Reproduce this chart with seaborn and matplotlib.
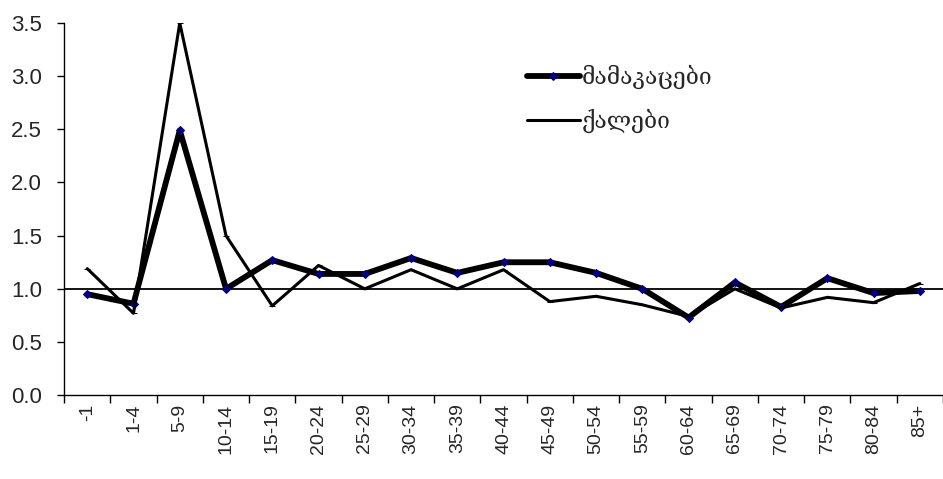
import numpy as np
import pandas as pd
import matplotlib
matplotlib.use("Agg")
import matplotlib.pyplot as plt
import seaborn as sns

AGE_GROUPS = ["-1", "1-4", "5-9", "10-14", "15-19", "20-24", "25-29", "30-34",
              "35-39", "40-44", "45-49", "50-54", "55-59", "60-64", "65-69",
              "70-74", "75-79", "80-84", "85+"]
MEN = [0.95, 0.86, 2.49, 1.00, 1.27, 1.14, 1.14, 1.29, 1.15, 1.25, 1.25,
       1.15, 1.00, 0.73, 1.06, 0.83, 1.10, 0.96, 0.98]
WOMEN = [1.19, 0.77, 3.50, 1.50, 0.84, 1.22, 1.00, 1.18, 1.00, 1.18, 0.88,
         0.93, 0.85, 0.74, 1.00, 0.82, 0.92, 0.87, 1.05]
LABEL_MEN = "მამაკაცები"
LABEL_WOMEN = "ქალები"
REF_LEVEL = 1.0


def main():
    sns.set_style("white")
    plt.rcParams["font.family"] = ["Liberation Sans", "DejaVu Sans"]

    pos = np.arange(len(AGE_GROUPS))
    df = pd.DataFrame({"pos": pos, "men": MEN, "women": WOMEN})

    fig = plt.figure(figsize=(9.43, 4.79), dpi=100)
    ax = fig.add_axes([0.068, 0.175, 0.932, 0.777])

    sns.lineplot(data=df, x="pos", y="men", ax=ax, color="black", lw=4.2,
                 marker="D", markersize=4, markerfacecolor="#000080",
                 markeredgecolor="#000080", label=LABEL_MEN)
    sns.lineplot(data=df, x="pos", y="women", ax=ax, color="black", lw=2.2,
                 marker="_", markersize=4, markeredgecolor="black",
                 label=LABEL_WOMEN)
    ax.axhline(REF_LEVEL, color="black", lw=1.3, zorder=1)

    ax.set_xlim(-0.5, len(AGE_GROUPS) - 0.5)
    ax.set_ylim(0, 3.5)
    ax.set_yticks(np.arange(0, 3.51, 0.5))
    ax.set_yticklabels([f"{v:.1f}" for v in np.arange(0, 3.51, 0.5)], fontsize=16)

    # tick marks on category boundaries, labels in the middle
    ax.set_xticks(np.arange(-0.5, len(AGE_GROUPS), 1.0))
    ax.set_xticklabels([])
    ax.set_xticks(pos, minor=True)
    ax.set_xticklabels(AGE_GROUPS, minor=True, rotation=90, fontsize=14)
    ax.tick_params(axis="x", which="major", length=6, width=1, direction="out",
                   bottom=True, color="black")
    ax.tick_params(axis="x", which="minor", length=0, pad=6)
    ax.tick_params(axis="y", length=5, width=1, direction="out", left=True,
                   color="black", pad=11)

    ax.set_xlabel("")
    ax.set_ylabel("")
    sns.despine(ax=ax)
    for s in ["left", "bottom"]:
        ax.spines[s].set_color("black")
        ax.spines[s].set_linewidth(1)

    ax.legend(loc="upper left", bbox_to_anchor=(0.503, 0.943), frameon=False,
              handlelength=2.3, handletextpad=0.1, labelspacing=0.85,
              prop={"family": ["DejaVu Serif", "DejaVu Sans"], "size": 16.5})

    fig.savefig("out.png", dpi=100)
    plt.close(fig)


if __name__ == "__main__":
    main()
